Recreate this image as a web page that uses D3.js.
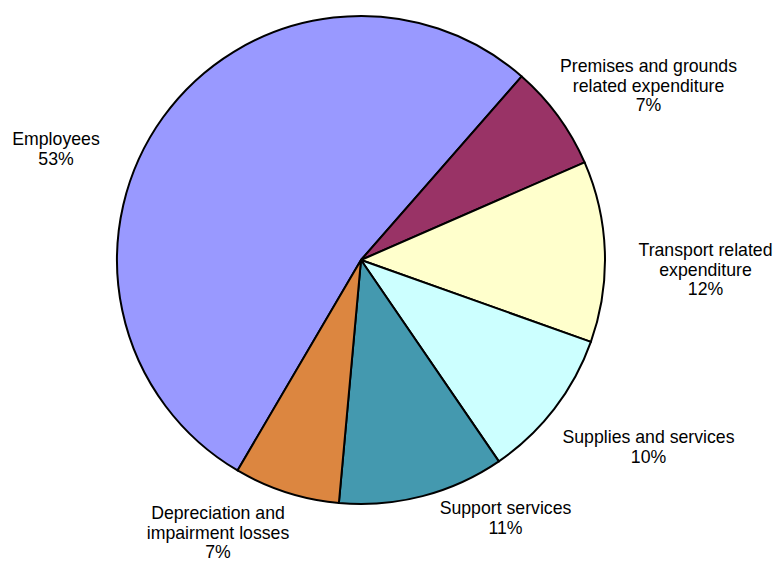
<!DOCTYPE html>
<html>
<head>
<meta charset="utf-8">
<script src="https://cdn.jsdelivr.net/npm/d3@7"></script>
<style>
  html, body { margin: 0; padding: 0; background: #fff; }
  svg { display: block; }
</style>
</head>
<body>
<svg id="chart" width="776" height="562"></svg>
<script>
// Expenditure breakdown by category (percent of total)
const categories = [
  "Employees",
  "Premises and grounds related expenditure",
  "Transport related expenditure",
  "Supplies and services",
  "Support services",
  "Depreciation and impairment losses"
];
const values = [53, 7, 12, 10, 11, 7];
const colors = ["#9999FF", "#993366", "#FFFFCC", "#CCFFFF", "#4499AF", "#DC8640"];

// Line breaks used in each category's label
const labelLines = [
  ["Employees"],
  ["Premises and grounds", "related expenditure"],
  ["Transport related", "expenditure"],
  ["Supplies and services"],
  ["Support services"],
  ["Depreciation and", "impairment losses"]
];

// Layout
const width = 776, height = 562;
const cx = 361, cy = 260, radius = 244;
const fontSize = 17.7, lineHeight = 19.5;
// Label anchor: centre x and first baseline y, per category
const labelAnchor = [
  [56, 145],
  [648.5, 72],
  [705.5, 256],
  [648.5, 443],
  [505.5, 514],
  [218, 519]
];

const data = categories.map((c, i) => ({ category: c, value: values[i], color: colors[i], lines: labelLines[i] }));

const svg = d3.select("#chart");
const g = svg.append("g").attr("transform", `translate(${cx},${cy})`);

const start = -149.6 * Math.PI / 180;
const pie = d3.pie()
  .value(d => d.value)
  .sort(null)
  .startAngle(start)
  .endAngle(start + 2 * Math.PI);

const arc = d3.arc().innerRadius(0).outerRadius(radius);

g.selectAll("path.slice")
  .data(pie(data))
  .join("path")
  .attr("class", "slice")
  .attr("d", arc)
  .attr("fill", d => d.data.color)
  .attr("stroke", "#000")
  .attr("stroke-width", 2)
  .attr("stroke-linejoin", "round");

const labels = svg.append("g")
  .attr("font-family", "'Liberation Sans', Arial, Helvetica, sans-serif")
  .attr("font-size", fontSize)
  .attr("fill", "#000")
  .attr("text-anchor", "middle");

data.forEach((d, i) => {
  const [x, y] = labelAnchor[i];
  const t = labels.append("text").attr("x", x).attr("y", y);
  const rows = d.lines.concat([d.value + "%"]);
  rows.forEach((line, j) => {
    t.append("tspan").attr("x", x).attr("dy", j === 0 ? 0 : lineHeight).text(line);
  });
});
</script>
</body>
</html>
